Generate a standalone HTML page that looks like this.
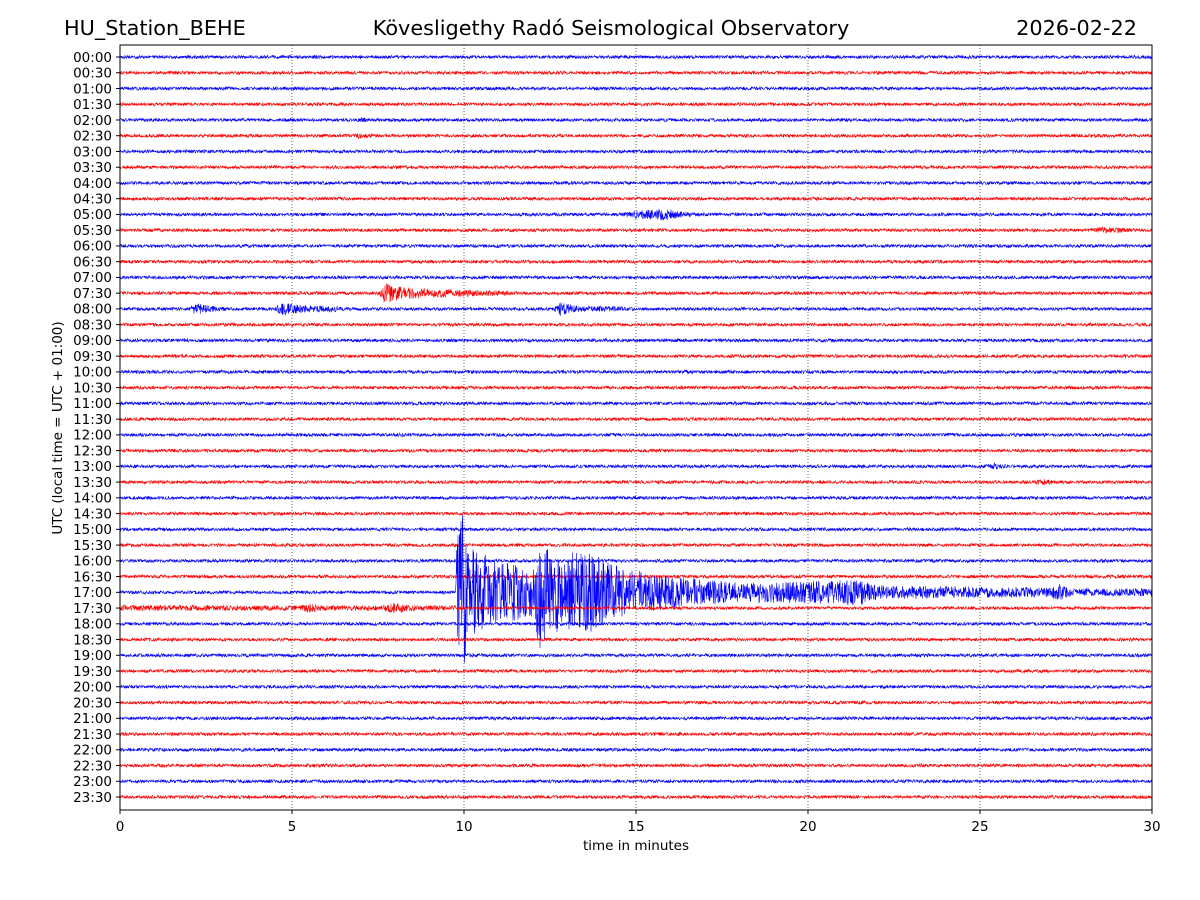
<!DOCTYPE html>
<html><head><meta charset="utf-8"><style>
html,body{margin:0;padding:0;background:#fff}
svg{display:block;font-family:"DejaVu Sans","Liberation Sans",sans-serif}
</style></head><body>
<svg id="chart" width="1200" height="900" viewBox="0 0 1200 900">
<text x="64" y="35" font-size="20.8">HU_Station_BEHE</text>
<text x="611" y="35" font-size="20.8" text-anchor="middle">Kövesligethy Radó Seismological Observatory</text>
<text x="1137" y="35" font-size="20.8" text-anchor="end">2026-02-22</text>
<g id="grid"></g>
<g id="traces"></g>
<rect x="120" y="45" width="1032" height="765" fill="none" stroke="#000" stroke-width="1"/>
<g id="yaxis"></g>
<g id="xaxis"></g>
<text x="636" y="850" font-size="13.5" text-anchor="middle">time in minutes</text>
<text transform="translate(62,428) rotate(-90)" font-size="13.5" text-anchor="middle">UTC (local time = UTC + 01:00)</text>
</svg>
<script>
const rowLabels = [];
for (let h = 0; h < 24; h++) { const hh = String(h).padStart(2,'0'); rowLabels.push(hh+':00', hh+':30'); }
const xTicks = [0,5,10,15,20,25,30];
const baseAmp = 1.6;
// envelope knots per row index: [minute, amplitude px]
const envelopes = {
  10: [[14.6,1.6],[15.0,4],[15.8,6],[16.5,2.5],[17,1.6]],
  11: [[28.2,1.6],[28.5,3.5],[29.2,2.5],[29.6,1.6]],
  15: [[7.55,1.6],[7.65,11],[8.2,6],[9.5,4],[10.5,3],[11.5,2]],
  16: [[2.0,1.6],[2.2,6],[2.6,3],[3.2,1.6],[4.5,1.6],[4.7,7],[5.2,4],[6.2,3],[6.6,1.6],[12.6,1.6],[12.8,7],[13.3,3],[14.5,2.5],[15,1.6]],
  34: [[9.75,2],[9.8,60],[10.0,90],[10.15,45],[11,32],[12,25],[12.2,62],[12.5,40],[13.8,40],[14.5,25],[16,16],[18,10],[20,11],[21.5,13],[22,7],[27,5],[27.3,9],[27.6,4],[30,4]],
  35: [[0,3],[5.2,2.5],[5.5,4.5],[5.9,2.5],[7.6,2.5],[8.0,5.5],[8.4,3],[9.8,2.5],[10,1.6]],
  4:  [[6.9,1.6],[7.0,3],[7.3,1.6]],
  5:  [[6.8,1.6],[7.0,3],[7.4,1.6]],
  26: [[25.1,1.6],[25.4,3.5],[25.8,1.6]],
  27: [[26.5,1.6],[26.9,3],[27.3,1.6]]
};
const PL=120, PR=1152, PT=45, PB=810;
const xScale = m => PL + (m/30)*(PR-PL);
const y0=57, y1=797;
const yScale = i => y0 + i*(y1-y0)/(rowLabels.length-1);
const NS='http://www.w3.org/2000/svg';
function mk(tag, attrs, parent){const e=document.createElementNS(NS,tag);for(const k in attrs)e.setAttribute(k,attrs[k]);parent.appendChild(e);return e;}
function env(i,m){
  const k=envelopes[i]; if(!k) return baseAmp;
  if(m<k[0][0]||m>k[k.length-1][0]) return baseAmp;
  for(let j=0;j<k.length-1;j++){ if(m>=k[j][0]&&m<=k[j+1][0]){const t=(m-k[j][0])/(k[j+1][0]-k[j][0]||1);return k[j][1]+t*(k[j+1][1]-k[j][1]);} }
  return baseAmp;
}
// deterministic integer-hash texture for trace wiggle (not data)
function tex(s,i){let h=Math.imul(s+1,0x9E3779B1)^Math.imul(i+7,0x85EBCA77);h^=h>>>15;h=Math.imul(h,0x2C1B3C6D);h^=h>>>12;h=Math.imul(h,0x297A2D39);h^=h>>>15;return ((h>>>0)/4294967295)*2-1;}
const grid=document.getElementById('grid');
xTicks.slice(1,-1).forEach(t=>{
  const l=mk('line',{x1:xScale(t),x2:xScale(t),y1:PT,y2:PB,stroke:'#000','stroke-width':0.6,'stroke-dasharray':'1,2'},grid);
  
  
});
const traces=document.getElementById('traces');
rowLabels.forEach((lab,i)=>{
  const y=yScale(i); let pts=[];
  const N=3096;
  for(let s=0;s<=N;s++){
    const m=30*s/N;
    const a=env(i,m);
    pts.push(xScale(m).toFixed(2)+','+(y+a*tex(s,i)).toFixed(1));
  }
  const p=mk('polyline',{points:pts.join(' '),fill:'none',stroke:i%2?'#ff0000':'#0000ff','stroke-width':0.6},traces);
  
  
});
const ya=document.getElementById('yaxis');
rowLabels.forEach((lab,i)=>{
  const y=yScale(i);
  const t=mk('line',{x1:116,x2:120,y1:y,y2:y,stroke:'#000'},ya);
  
  
  const tx=mk('text',{x:112,y:y+4.8,'font-size':13.5,'text-anchor':'end'},ya);
  tx.textContent=lab;
  
  
});
const xa=document.getElementById('xaxis');
xTicks.forEach(v=>{
  const x=xScale(v);
  const t=mk('line',{x1:x,x2:x,y1:810,y2:814,stroke:'#000'},xa);
  
  
  const tx=mk('text',{x:x,y:831,'font-size':13.5,'text-anchor':'middle'},xa);
  tx.textContent=v;
  
  
});
</script>
</body></html>
